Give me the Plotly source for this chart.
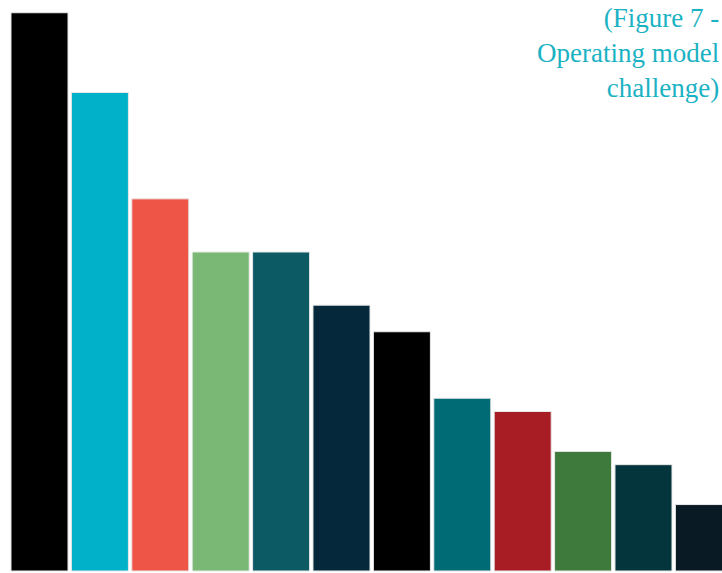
import plotly.graph_objects as go

categories = ["C1", "C2", "C3", "C4", "C5", "C6", "C7", "C8", "C9", "C10", "C11", "C12"]
values = [42, 36, 28, 24, 24, 20, 18, 13, 12, 9, 8, 5]
colors = ["#000000", "#00b1c9", "#ef5546", "#79b875", "#0c5b64", "#05293a",
          "#000000", "#006b74", "#a81d23", "#3e7a3b", "#04353d", "#0a1a24"]

fig = go.Figure(go.Bar(
    x=list(range(len(categories))),
    y=values,
    width=0.944,
    marker=dict(color=colors, line=dict(color="#e8e8e8", width=1)),
    hoverinfo="skip",
))

fig.update_layout(
    width=722, height=573,
    margin=dict(l=0, r=0, t=0, b=0),
    paper_bgcolor="white", plot_bgcolor="white",
    showlegend=False,
    xaxis=dict(range=[-0.654, 11.30], visible=False, fixedrange=True),
    yaxis=dict(range=[-0.15, 42.96], visible=False, fixedrange=True),
    annotations=[dict(
        text="(Figure 7 -<br>Operating model<br>challenge)",
        xref="paper", yref="paper", x=0.998, y=0.998,
        xanchor="right", yanchor="top", align="right",
        showarrow=False,
        font=dict(family="Liberation Serif, DejaVu Serif, serif", size=27, color="#1bb2c4"),
    )],
)

fig.write_html(
    "out.html",
    config={"displayModeBar": False},
    post_script="document.body.style.margin='0';document.body.style.overflow='hidden';",
)
